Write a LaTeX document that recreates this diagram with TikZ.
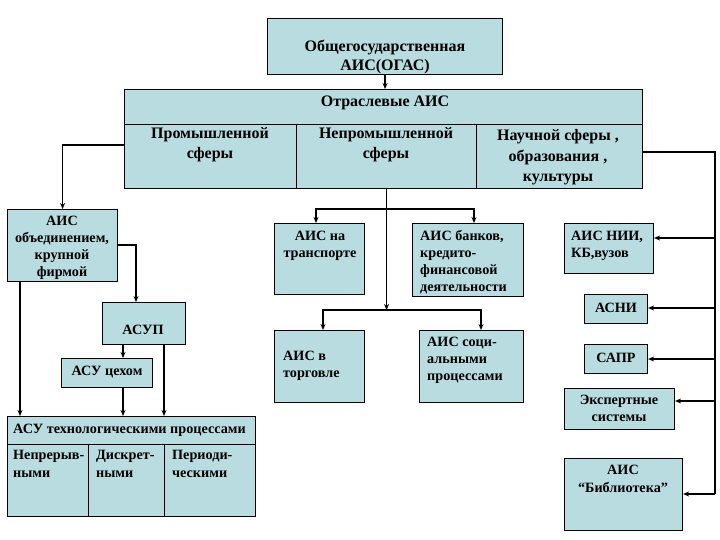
\documentclass[tikz,border=0pt]{standalone}
\usepackage{fontspec}
\setmainfont{Liberation Serif}
\usetikzlibrary{arrows.meta,calc}
\definecolor{boxfill}{RGB}{184,220,224}
\begin{document}
\begin{tikzpicture}[x=1pt,y=-1pt,
 box/.style={draw=black, line width=1.1pt, fill=boxfill, inner sep=0pt, anchor=north west},
 txt/.style={font=\fontsize{14.2}{17}\selectfont\bfseries, inner sep=0pt, align=center},
 bigtxt/.style={txt, font=\fontsize{16}{20}\selectfont\bfseries},
 ltxt/.style={txt, align=left, anchor=west},
 conn/.style={line width=1.5pt, -{Stealth[length=6pt,width=5pt]}},
 wire/.style={line width=1.5pt},
]
\path[use as bounding box] (0,0) rectangle (720,540);
% boxes
\node[box, minimum width=235pt, minimum height=56pt] (top) at (267,18) {};
\node[box, minimum width=518pt, minimum height=35pt] (otr) at (124,89) {};
\node[box, minimum width=172pt, minimum height=64pt] (prom) at (124,124) {};
\node[box, minimum width=180pt, minimum height=64pt] (neprom) at (296,124) {};
\node[box, minimum width=166pt, minimum height=64pt] (nauch) at (476,124) {};
\node[box, minimum width=110pt, minimum height=72pt] (obj) at (7,209) {};
\node[box, minimum width=83pt, minimum height=42pt] (asup) at (102,302) {};
\node[box, minimum width=91pt, minimum height=29pt] (cex) at (61,358) {};
\node[box, minimum width=248pt, minimum height=28pt] (tech) at (7,416) {};
\node[box, minimum width=81pt, minimum height=72pt] (n1) at (7,444) {};
\node[box, minimum width=76pt, minimum height=72pt] (n2) at (88,444) {};
\node[box, minimum width=91pt, minimum height=72pt] (n3) at (164,444) {};
\node[box, minimum width=90pt, minimum height=71pt] (trans) at (274,223) {};
\node[box, minimum width=111pt, minimum height=73pt] (bank) at (412,223) {};
\node[box, minimum width=90pt, minimum height=72pt] (torg) at (274,330) {};
\node[box, minimum width=104pt, minimum height=72pt] (soc) at (419,330) {};
\node[box, minimum width=89pt, minimum height=50pt] (nii) at (564,223) {};
\node[box, minimum width=63pt, minimum height=29pt] (asni) at (584,294) {};
\node[box, minimum width=63pt, minimum height=29pt] (sapr) at (584,344) {};
\node[box, minimum width=110pt, minimum height=41pt] (exp) at (564,388) {};
\node[box, minimum width=118pt, minimum height=72pt] (bib) at (564,458) {};
% texts
\node[bigtxt, font=\fontsize{16}{19}\selectfont\bfseries] (ttop) at (385,56.5) {Общегосударственная\\АИС(ОГАС)};
\node[bigtxt] (totr) at (385,103) {Отраслевые АИС};
\node[bigtxt] (tprom) at (210,145) {Промышленной\\сферы};
\node[bigtxt] (tneprom) at (386,145) {Непромышленной\\сферы};
\node[bigtxt, font=\fontsize{16}{20.5}\selectfont\bfseries] (tnauch) at (558,157.5) {Научной сферы ,\\образования ,\\культуры};
\node[txt] (tobj) at (62,247.5) {АИС\\объединением,\\крупной\\фирмой};
\node[txt] (tasup) at (143,330) {АСУП};
\node[txt] (tcex) at (107,372) {АСУ цехом};
\node[ltxt] (ttech) at (13,430) {АСУ технологическими процессами};
\node[ltxt, font=\fontsize{14.2}{18}\selectfont\bfseries] (tn1) at (13,464) {Непрерыв-\\ными};
\node[ltxt, font=\fontsize{14.2}{18}\selectfont\bfseries] (tn2) at (96,464) {Дискрет-\\ными};
\node[ltxt, font=\fontsize{14.2}{18}\selectfont\bfseries] (tn3) at (172,464) {Периоди-\\ческими};
\node[txt] (ttrans) at (320,245.5) {АИС на\\транспорте};
\node[ltxt] (tbank) at (420,262.5) {АИС банков,\\кредито-\\финансовой\\деятельности};
\node[ltxt] (tnii) at (571,245.5) {АИС НИИ,\\КБ,вузов};
\node[txt] (tasni) at (616,308) {АСНИ};
\node[txt] (tsapr) at (616,358) {САПР};
\node[ltxt] (ttorg) at (283,366) {АИС в\\торговле};
\node[ltxt] (tsoc) at (427,360.5) {АИС соци-\\альными\\процессами};
\node[txt] (texp) at (619,408.5) {Экспертные\\системы};
\node[txt, font=\fontsize{14.2}{18}\selectfont\bfseries] (tbib) at (623,479) {АИС\\“Библиотека”};
% connectors
\draw[conn] (top.south) -- (top.south |- otr.north);
\draw[conn, line width=1.2pt] (prom.west |- 0,145) -| (obj.north);
\coordinate (r1) at (715,152);
\coordinate (r2) at (715,494);
\coordinate (rnii) at (715,238);
\coordinate (rasni) at (715,308);
\coordinate (rsapr) at (715,359);
\coordinate (rexp) at (715,401);
\draw[wire] (nauch.east |- r1) -- (r1) -- (r2);
\draw[conn] (r2) -- (bib.east |- r2);
\draw[conn] (rnii) -- (nii.east |- rnii);
\draw[conn] (rasni) -- (asni.east |- rasni);
\draw[conn] (rsapr) -- (sapr.east |- rsapr);
\draw[conn] (rexp) -- (exp.east |- rexp);
\coordinate (h1) at (neprom.south |- 0,209);
\coordinate (h2) at (neprom.south |- 0,310);
\draw[conn] (neprom.south) -- (h2);
\draw[conn] (h1) -| (trans.north -| 316,0);
\draw[conn] (h1) -| (bank.north -| 474,0);
\draw[conn] (h2) -| (torg.north -| 323,0);
\draw[conn] (h2) -| (soc.north -| 481,0);
\draw[conn] (obj.east |- 0,245) -| (asup.north -| 136,0);
\draw[conn] (asup.south -| 123,0) -- (cex.north -| 123,0);
\draw[conn] (obj.south -| 20,0) -- (tech.north -| 20,0);
\draw[conn] (cex.south -| 123,0) -- (tech.north -| 123,0);
\draw[conn] (asup.south -| 164,0) -- (tech.north -| 164,0);
\end{tikzpicture}
\end{document}
